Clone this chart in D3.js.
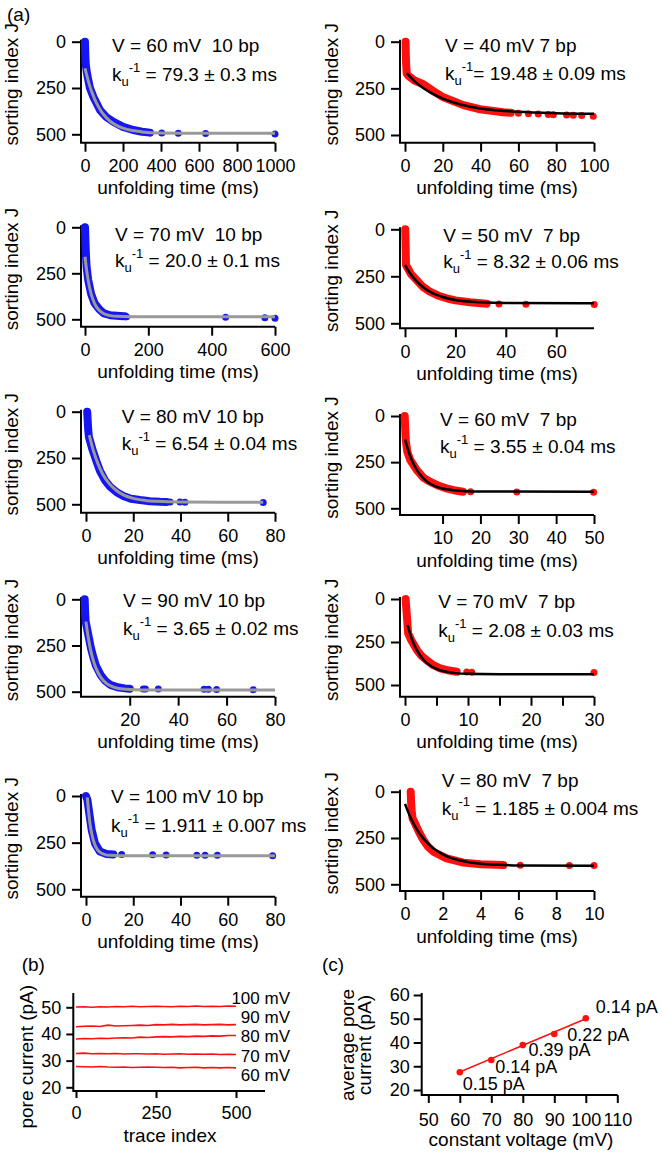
<!DOCTYPE html>
<html>
<head>
<meta charset="utf-8">
<script src="https://cdn.jsdelivr.net/npm/d3@7"></script>
<style>
body { margin: 0; background: #fff; }
svg text { font-family: "Liberation Sans", Arial, Helvetica, sans-serif; fill: #000; }
</style>
</head>
<body>
<div id="chart"></div>
<script>
// ---------- data (unfolding time in ms, sorting index J) ----------
// 10 bp hairpin, left column
var band10bp60 = [[0,0],[1,40],[2,80],[4,120],[8,155],[15,195],[26,250],[45,300],[79,369],[110,405],[149,432],[200,460],[254,477],[300,486],[342,491]];
var dots10bp60 = [[342,492],[404,493],[491,494],[635,496],[1000,498]];
var fit10bp60  = [[0,144],[20,222],[40,283],[60,330],[80,367],[100,396],[130,427],[160,448],[200,467],[250,480],[300,487],[400,493],[600,495],[1000,495]];

var band10bp70 = [[0,0],[1,50],[2,100],[3,150],[5,215],[10,285],[19,360],[30,412],[45,445],[60,468],[80,478],[110,482],[125,484]];
var dots10bp70 = [[126,485],[131,486],[444,489],[568,491],[600,494]];
var fit10bp70  = [[0,160],[5,232],[10,288],[20,366],[30,413],[40,442],[60,470],[80,480],[100,484],[150,486],[600,486]];

var band10bp80 = [[0.5,0],[0.7,45],[0.9,90],[1.2,135],[2.8,207],[4.5,270],[5.9,320],[8,370],[10.2,405],[13,435],[15.8,455],[19,470],[22.9,477],[27,483],[31.3,486],[34,487]];
var dots10bp80 = [[35.6,487],[39.8,488],[41.9,489],[75,490]];
var fit10bp80  = [[1.4,126],[3,205],[5,279],[7,335],[10,391],[13,427],[16,450],[20,468],[25,479],[30,484],[40,488],[75,489]];

var band10bp90 = [[1.4,0],[1.5,40],[1.6,80],[1.8,120],[3,200],[4,265],[5,315],[6,358],[8,410],[10,443],[12,463],[15,476],[18,482],[20,484]];
var dots10bp90 = [[25.6,485],[26.5,485],[31.8,486],[50.7,487],[52.5,487],[55.9,488],[71,489]];
var fit10bp90  = [[1.9,121],[3,217],[4,283],[5,333],[6,371],[8,421],[10,451],[12,468],[15,481],[20,488],[30,491],[80,491]];

var band10bp100 = [[0,0],[0.6,21],[1.4,93],[2.4,182],[3.8,254],[5.9,298],[8.7,311],[11.6,313]];
var dots10bp100 = [[15.1,314],[28.2,315],[33.9,316],[46.9,317],[50.4,317],[55.6,318],[79,320]];
var fit10bp100  = [[0.55,7],[1,72],[1.5,129],[2,173],[3,233],[4,269],[5,290],[6,302],[8,314],[10,318],[15,320],[80,320]];

// 7 bp hairpin, right column
var band7bp40 = [[0.3,0],[0.4,60],[0.6,120],[0.9,170],[1.5,180],[5,208],[9.7,228],[15,265],[20.3,298],[30.9,340],[39.7,362],[52,378],[56,381]];
var dots7bp40 = [[60,384],[65.3,386],[70.5,388],[75.8,390],[78.5,391],[85.5,393],[89,394],[93.5,395],[99.6,400]];
var fit7bp40  = [[1,170],[5,211],[10,251],[15,281],[20,305],[30,338],[40,358],[50,369],[60,376],[80,383],[100,386]];

var band7bp50 = [[0.1,0],[0.2,60],[0.3,130],[0.4,190],[1,205],[2.5,240],[4.6,270],[7,305],[9.9,332],[13,352],[16.5,367],[20,378],[25.8,388],[32.4,396]];
var dots7bp50 = [[37.3,398],[48,399],[75.1,400]];
var fit7bp50  = [[0,190],[2,234],[4,268],[6,295],[8,316],[10,333],[15,360],[20,376],[25,384],[30,388],[40,392],[75,394]];

var band7bp60 = [[0,0],[0.1,50],[0.2,100],[0.3,135],[0.7,195],[1.5,240],[3.2,293],[5,335],[6.7,356],[9,378],[11,392],[13,402],[15.4,410]];
var dots7bp60 = [[17.4,411],[29.6,412],[49.9,413]];
var fit7bp60  = [[0.1,128],[1,191],[2,245],[3,285],[4,316],[6,357],[8,380],[10,393],[13,402],[16,407],[20,409],[50,410]];

var band7bp70 = [[0.1,0],[0.2,50],[0.3,100],[0.4,150],[0.5,200],[1,240],[1.9,297],[2.6,330],[3.4,355],[4.5,385],[5.6,403],[7,416],[8.2,423]];
var dots7bp70 = [[9.8,425],[10.6,426],[30,428]];
var fit7bp70  = [[0.4,151],[1,223],[1.5,269],[2,305],[3,356],[4,387],[5,407],[6,419],[8,431],[10,435],[15,437],[30,438]];

var band7bp80 = [[0.3,0],[0.32,50],[0.35,100],[0.4,144],[0.53,171],[0.75,220],[0.97,261],[1.2,295],[1.5,324],[2.2,360],[3.1,383],[4,392],[5.2,396]];
var dots7bp80 = [[6.1,397],[8.7,398],[10,399]];
var fit7bp80  = [[0,66],[0.25,130],[0.5,181],[0.75,223],[1,256],[1.5,306],[2,338],[2.5,360],[3,373],[4,389],[5,395],[6,398],[10,400]];

// panel (b): pore current traces
var traceIndex = [0,25,50,75,100,125,150,175,200,225,250,275,300,325,350,375,400,425,450,475,500];
var trace60  = [27.8,27.7,27.6,27.8,27.6,27.5,27.6,27.4,27.5,27.6,27.5,27.4,27.5,27.3,27.4,27.5,27.3,27.4,27.3,27.4,27.3];
var trace70  = [32.7,32.8,32.6,32.7,32.6,32.7,32.5,32.6,32.6,32.5,32.6,32.4,32.5,32.6,32.4,32.5,32.4,32.5,32.3,32.4,32.3];
var trace80  = [38.1,38.3,38.2,38.4,38.3,38.5,38.6,38.5,38.8,38.7,38.9,39.0,38.9,39.1,39.0,39.2,39.1,39.3,39.2,39.4,39.4];
var trace90  = [42.7,42.9,43.0,42.8,43.3,43.0,43.1,43.2,43.3,43.2,43.5,43.4,43.6,43.4,43.5,43.6,43.4,43.5,43.6,43.4,43.5];
var trace100 = [50.1,50.2,50.0,50.2,50.1,50.3,50.2,50.4,50.2,50.3,50.4,50.3,50.2,50.4,50.3,50.5,50.3,50.4,50.3,50.5,50.4];
var traceNames = ["60 mV","70 mV","80 mV","90 mV","100 mV"];

// panel (c): average pore current vs voltage
var voltages = [60,70,80,90,100];
var avgCurrent = [27.5,32.6,38.9,43.6,50.2];
var currentErr = ["0.15 pA","0.14 pA","0.39 pA","0.22 pA","0.14 pA"];
var fitCurrent = [[60,27.6],[100,50.0]];

// ---------- panel definitions ----------
var blue = "#1616f2", red = "#ff1010", gray = "#999999";

var panels = [
  {band: band10bp60, dots: dots10bp60, fit: fit10bp60, c: blue, fc: gray, tMax: 1000, ticks: [0,200,400,600,800,1000], v: "V = 60 mV  10 bp", k: " = 79.3 ± 0.3 ms"},
  {band: band10bp70, dots: dots10bp70, fit: fit10bp70, c: blue, fc: gray, tMax: 600, ticks: [0,200,400,600], v: "V = 70 mV  10 bp", k: " = 20.0 ± 0.1 ms"},
  {band: band10bp80, dots: dots10bp80, fit: fit10bp80, c: blue, fc: gray, tMax: 80, ticks: [0,20,40,60,80], v: "V = 80 mV 10 bp", k: " = 6.54 ± 0.04 ms"},
  {band: band10bp90, dots: dots10bp90, fit: fit10bp90, c: blue, fc: gray, tMax: 80, ticks: [20,40,60,80], v: "V = 90 mV 10 bp", k: " = 3.65 ± 0.02 ms"},
  {band: band10bp100, dots: dots10bp100, fit: fit10bp100, c: blue, fc: gray, tMax: 80, ticks: [0,20,40,60,80], v: "V = 100 mV 10 bp", k: " = 1.911 ± 0.007 ms"},
  {band: band7bp40, dots: dots7bp40, fit: fit7bp40, c: red, fc: "#000", tMax: 100, ticks: [0,20,40,60,80,100], v: "V = 40 mV 7 bp", k: "= 19.48 ± 0.09 ms"},
  {band: band7bp50, dots: dots7bp50, fit: fit7bp50, c: red, fc: "#000", tMax: 75, ticks: [0,20,40,60], v: "V = 50 mV  7 bp", k: " = 8.32 ± 0.06 ms"},
  {band: band7bp60, dots: dots7bp60, fit: fit7bp60, c: red, fc: "#000", tMax: 50, ticks: [10,20,30,40,50], v: "V = 60 mV  7 bp", k: " = 3.55 ± 0.04 ms"},
  {band: band7bp70, dots: dots7bp70, fit: fit7bp70, c: red, fc: "#000", tMax: 30, ticks: [0,5,10,15,20,25,30], v: "V = 70 mV  7 bp", k: " = 2.08 ± 0.03 ms"},
  {band: band7bp80, dots: dots7bp80, fit: fit7bp80, c: red, fc: "#000", tMax: 10, ticks: [0,2,4,6,8,10], v: "V = 80 mV  7 bp", k: " = 1.185 ± 0.004 ms"}
];

// pixel layout of each panel: y-axis x, x of t=0, x of tMax, y of J=0, y of J=500, x-axis y, annotation x / baselines
var layout = [
  {ax: 81,  x0: 85,    xe: 275, y0: 41.7,  y5: 134.3, xy: 142.7, tx: 112,   vb: 52,    kb: 81},
  {ax: 81,  x0: 85,    xe: 275, y0: 227.3, y5: 319.3, xy: 326.7, tx: 115,   vb: 241,   kb: 267},
  {ax: 81,  x0: 86,    xe: 275, y0: 411.7, y5: 504.3, xy: 512.7, tx: 121.7, vb: 423,   kb: 450},
  {ax: 81,  x0: 81.3,  xe: 275, y0: 599.3, y5: 691.7, xy: 696.7, tx: 123,   vb: 606.5, kb: 635},
  {ax: 81,  x0: 86,    xe: 275, y0: 796,   y5: 889.3, xy: 896.7, tx: 111,   vb: 803,   kb: 831.5},
  {ax: 400, x0: 405,   xe: 594, y0: 41.7,  y5: 135,   xy: 142.7, tx: 445,   vb: 52,    kb: 80},
  {ax: 400, x0: 405,   xe: 594, y0: 229.3, y5: 323.3, xy: 328.3, tx: 443.3, vb: 241.5, kb: 268},
  {ax: 400, x0: 404.7, xe: 594, y0: 416,   y5: 508.3, xy: 515,   tx: 440,   vb: 426,   kb: 453},
  {ax: 400, x0: 405,   xe: 594, y0: 599,   y5: 685,   xy: 696.7, tx: 438.3, vb: 608,   kb: 636.5},
  {ax: 400, x0: 405,   xe: 594, y0: 791.7, y5: 884.3, xy: 891,   tx: 441.7, vb: 786.5, kb: 815}
];

var svg = d3.select("#chart")
            .append("svg")
            .attr("width", 663)
            .attr("height", 1152)
            .style("display", "block");

// draws the L-shaped Igor-style axes
function drawAxes(g, xs, ys, o) {
    var xa = d3.axisBottom(xs).tickValues(o.xt).tickSize(o.xts).tickPadding(o.xtp).tickSizeOuter(0)
               .tickFormat(o.xf || d3.format("d"));
    var gx = g.append("g").attr("transform", "translate(0," + o.xy + ")").call(xa);
    var ya = d3.axisLeft(ys).tickValues(o.yt).tickSize(o.yts).tickPadding(o.ytp).tickSizeOuter(0)
               .tickFormat(d3.format("d"));
    var gy = g.append("g").attr("transform", "translate(" + o.ax + ",0)").call(ya);
    [gx, gy].forEach(function(a) {
        a.select(".domain").remove();
        a.selectAll(".tick line").attr("stroke", "#000").attr("stroke-width", 2);
        a.selectAll(".tick text").attr("font-size", 18).attr("fill", "#000")
         .style("font-family", "'Liberation Sans', Arial, sans-serif");
    });
    g.append("path")
     .attr("d", "M" + o.ax + "," + o.top + "V" + o.xy + "H" + o.xend)
     .attr("fill", "none")
     .attr("stroke", "#000")
     .attr("stroke-width", 2);
}

panels.forEach(function(p, i) {
    var L = layout[i];
    var g = svg.append("g");
    var xs = d3.scaleLinear().domain([0, p.tMax]).range([L.x0, L.xe]);
    var ys = d3.scaleLinear().domain([0, 500]).range([L.y0, L.y5]);

    drawAxes(g, xs, ys, {
        xt: p.ticks, xts: 9, xtp: 7.5, xy: L.xy,
        xf: p.tMax === 30 ? function(d) { return d % 10 === 0 ? d : ""; } : null,
        yt: [0, 250, 500], yts: 9, ytp: 6, ax: L.ax,
        top: L.y0 - 2, xend: L.xe
    });

    var line = d3.line().x(d => xs(d[0])).y(d => ys(d[1]));

    // measured points: dense band plus isolated slow events
    g.append("path")
     .attr("d", line(p.band))
     .attr("fill", "none")
     .attr("stroke", p.c)
     .attr("stroke-width", 8)
     .attr("stroke-linecap", "round")
     .attr("stroke-linejoin", "round");

    g.selectAll(".dot")
     .data(p.dots)
     .enter().append("circle")
     .attr("cx", d => xs(d[0]))
     .attr("cy", d => ys(d[1]))
     .attr("r", 3.5)
     .attr("fill", p.c);

    // exponential fit
    g.append("path")
     .attr("d", line.curve(d3.curveMonotoneX)(p.fit))
     .attr("fill", "none")
     .attr("stroke", p.fc)
     .attr("stroke-width", p.fc === gray ? 3 : 2.5);

    // axis titles
    g.append("text")
     .attr("x", (L.ax + L.xe) / 2)
     .attr("y", L.xy + 51.5)
     .attr("text-anchor", "middle")
     .attr("font-size", 19)
     .text("unfolding time (ms)");

    var cy = (L.y0 + L.xy) / 2 - 8;
    g.append("text")
     .attr("transform", "translate(" + (L.ax < 200 ? 17.7 : 337.7) + "," + cy + ") rotate(-90)")
     .attr("text-anchor", "middle")
     .attr("font-size", 19)
     .text("sorting index J");

    // annotation
    g.append("text")
     .attr("x", L.tx)
     .attr("y", L.vb)
     .attr("font-size", 19)
     .style("white-space", "pre")
     .text(p.v);

    var kt = g.append("text")
              .attr("x", L.tx)
              .attr("y", L.kb)
              .attr("font-size", 19)
              .style("white-space", "pre");
    kt.append("tspan").text("k");
    kt.append("tspan").attr("y", L.kb + 5).attr("font-size", 13).text("u");
    kt.append("tspan").attr("y", L.kb - 9).attr("font-size", 13).text("-1");
    kt.append("tspan").attr("y", L.kb).text(p.k);
});

// panel letters
svg.append("text").attr("x", 7).attr("y", 21).attr("font-size", 19).text("(a)");
svg.append("text").attr("x", 21.7).attr("y", 971).attr("font-size", 19).text("(b)");
svg.append("text").attr("x", 322).attr("y", 971).attr("font-size", 19).text("(c)");

// ---------- panel (b) ----------
var gb = svg.append("g");
var xb = d3.scaleLinear().domain([0, 500]).range([76, 236]);
var yb = d3.scaleLinear().domain([20, 50]).range([1087.3, 1007.3]);

drawAxes(gb, xb, yb, {
    xt: [0, 250, 500], xts: 7, xtp: 8, xy: 1091,
    yt: [20, 30, 40, 50], yts: 7, ytp: 5, ax: 73.3,
    top: 993, xend: 265
});

var traces = [trace60, trace70, trace80, trace90, trace100];
var traceLabelY = [1081, 1061.5, 1042, 1023, 1004];
var lineB = d3.line().x((d, i) => xb(traceIndex[i])).y(d => yb(d));

gb.selectAll(".trace")
  .data(traces)
  .enter().append("path")
  .attr("d", d => lineB(d))
  .attr("fill", "none")
  .attr("stroke", red)
  .attr("stroke-width", 1.6);

gb.selectAll(".tlab")
  .data(traceNames)
  .enter().append("text")
  .attr("x", 290)
  .attr("y", (d, i) => traceLabelY[i])
  .attr("text-anchor", "end")
  .attr("font-size", 17)
  .text(d => d);

gb.append("text")
  .attr("x", 170)
  .attr("y", 1142)
  .attr("text-anchor", "middle")
  .attr("font-size", 19)
  .text("trace index");

gb.append("text")
  .attr("transform", "translate(32.7,1056.7) rotate(-90)")
  .attr("text-anchor", "middle")
  .attr("font-size", 19)
  .text("pore current (pA)");

// ---------- panel (c) ----------
var gc = svg.append("g");
var xc = d3.scaleLinear().domain([50, 110]).range([428.3, 617.3]);
var yc = d3.scaleLinear().domain([20, 60]).range([1090, 995]);

drawAxes(gc, xc, yc, {
    xt: [50, 60, 70, 80, 90, 100, 110], xts: 8, xtp: 10, xy: 1095,
    yt: [20, 30, 40, 50, 60], yts: 8, ytp: 4, ax: 421.7,
    top: 993, xend: 617.7
});

gc.append("path")
  .attr("d", d3.line().x(d => xc(d[0])).y(d => yc(d[1]))(fitCurrent))
  .attr("stroke", red)
  .attr("stroke-width", 1.6);

gc.selectAll(".pt")
  .data(voltages)
  .enter().append("circle")
  .attr("cx", d => xc(d))
  .attr("cy", (d, i) => yc(avgCurrent[i]))
  .attr("r", 3.3)
  .attr("fill", red);

var errOffset = [[3, 18], [4, 13], [5.6, 11], [13, 6.6], [10, -5]];
gc.selectAll(".err")
  .data(currentErr)
  .enter().append("text")
  .attr("x", (d, i) => xc(voltages[i]) + errOffset[i][0])
  .attr("y", (d, i) => yc(avgCurrent[i]) + errOffset[i][1])
  .attr("font-size", 18)
  .text(d => d);

gc.append("text")
  .attr("x", 521)
  .attr("y", 1146)
  .attr("text-anchor", "middle")
  .attr("font-size", 19)
  .text("constant voltage (mV)");

var ylab = gc.append("text")
             .attr("transform", "translate(354.3,1045) rotate(-90)")
             .attr("text-anchor", "middle")
             .attr("font-size", 19);
ylab.append("tspan").attr("x", 0).attr("y", 0).text("average pore");
ylab.append("tspan").attr("x", 0).attr("y", 16.7).text("current (pA)");
</script>
</body>
</html>
